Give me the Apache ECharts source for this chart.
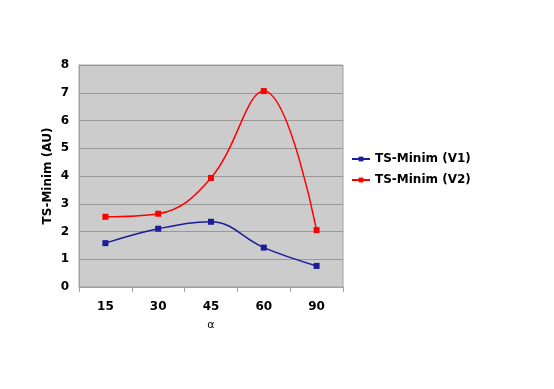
<!DOCTYPE html>
<html><head><meta charset="utf-8">
<script src="https://cdn.jsdelivr.net/npm/echarts@6/dist/echarts.min.js"></script>
<style>html,body{margin:0;padding:0;background:#fff}#c{width:554px;height:389px}</style>
</head><body><div id="c"></div>
<script>
var categories = ['15', '30', '45', '60', '90'];
var seriesV1 = [1.58, 2.1, 2.35, 1.42, 0.76];
var seriesV2 = [2.53, 2.64, 3.93, 7.06, 2.05];
var seriesNames = ['TS-Minim (V1)', 'TS-Minim (V2)'];
var yTicks = [0, 1, 2, 3, 4, 5, 6, 7, 8];

var chart = echarts.init(document.getElementById('c'));
var fontFam = '"DejaVu Sans", Verdana, sans-serif';
chart.setOption({
  animation: false,
  grid: {left: 79, right: 211, top: 65, bottom: 102, show: true, backgroundColor: '#cccccc', borderColor: '#a0a0a0', borderWidth: 1},
  legend: {
    orient: 'vertical', left: 346, top: 148, itemGap: 9, itemWidth: 18, itemHeight: 6,
    textStyle: {fontFamily: fontFam, fontWeight: 'bold', fontSize: 12, color: '#000'},
    data: seriesNames
  },
  xAxis: {
    type: 'category', data: categories, boundaryGap: true,
    name: 'α', nameLocation: 'middle', nameGap: 33,
    nameTextStyle: {fontFamily: fontFam, fontSize: 11, color: '#000'},
    axisLine: {lineStyle: {color: '#a0a0a0'}},
    axisTick: {show: true, length: 5, lineStyle: {color: '#a0a0a0'}},
    axisLabel: {fontFamily: fontFam, fontWeight: 'bold', fontSize: 12, color: '#000', margin: 14}
  },
  yAxis: {
    type: 'value', min: yTicks[0], max: yTicks[yTicks.length - 1], interval: 1,
    name: 'TS-Minim (AU)', nameLocation: 'middle', nameGap: 25,
    nameTextStyle: {fontFamily: fontFam, fontWeight: 'bold', fontSize: 12, color: '#000'},
    axisLine: {show: true, lineStyle: {color: '#a0a0a0'}},
    axisTick: {show: false},
    axisLabel: {fontFamily: fontFam, fontWeight: 'bold', fontSize: 12, color: '#000', margin: 10},
    splitLine: {lineStyle: {color: '#999999', width: 1}}
  },
  series: [
    {name: seriesNames[0], type: 'line', data: seriesV1, smooth: 0.4, symbol: 'rect', symbolSize: 6,
     lineStyle: {color: '#1c1c9c', width: 1.5}, itemStyle: {color: '#1c1c9c'}},
    {name: seriesNames[1], type: 'line', data: seriesV2, smooth: 0.4, symbol: 'rect', symbolSize: 6,
     lineStyle: {color: '#ff0000', width: 1.5}, itemStyle: {color: '#ff0000'}}
  ]
});
</script></body></html>
